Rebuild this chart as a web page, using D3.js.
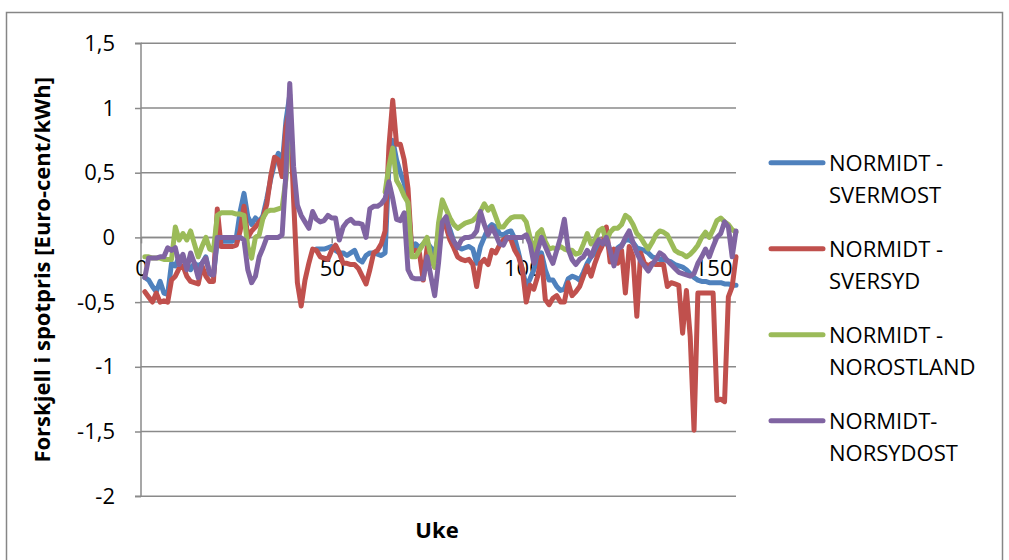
<!DOCTYPE html>
<html><head><meta charset="utf-8">
<script src="https://cdn.jsdelivr.net/npm/d3@7"></script>
<style>
html,body{margin:0;padding:0;background:#fff;}
svg{display:block;font-family:"Open Sans","Noto Sans",sans-serif;}
</style></head>
<body><svg id="chart" width="1009" height="560"></svg>
<script>
const weeks = d3.range(1, 157);
const xTicks = [0, 50, 100, 150];
const yTicks = [-2, -1.5, -1, -0.5, 0, 0.5, 1, 1.5];
const seriesNames = ["NORMIDT - SVERMOST", "NORMIDT - SVERSYD", "NORMIDT - NOROSTLAND", "NORMIDT- NORSYDOST"];
const legendLines = [["NORMIDT -", "SVERMOST"], ["NORMIDT -", "SVERSYD"], ["NORMIDT -", "NOROSTLAND"], ["NORMIDT-", "NORSYDOST"]];
const colors = ["#4F81BD", "#C0504D", "#9BBB59", "#8064A2"];

const sverMost = [
-0.31,-0.33,-0.38,-0.42,-0.34,-0.43,-0.44,-0.20,-0.22,-0.15,
-0.18,-0.20,-0.25,-0.20,-0.22,-0.20,-0.15,-0.28,-0.30,-0.02,
-0.03,-0.03,-0.03,-0.03,0.00,0.20,0.34,0.16,0.10,0.15,
0.12,0.17,0.30,0.45,0.57,0.65,0.55,0.90,1.10,null,
null,null,null,null,null,-0.09,-0.09,-0.09,-0.08,-0.07,
-0.10,-0.12,-0.12,-0.14,-0.12,-0.10,-0.17,-0.19,-0.14,-0.12,
-0.12,-0.13,-0.14,-0.12,0.55,0.75,0.60,0.50,0.42,0.28,
-0.10,-0.05,-0.08,-0.05,-0.04,-0.08,-0.12,0.00,0.13,0.14,
0.06,-0.03,-0.07,-0.09,-0.08,-0.07,-0.09,-0.20,-0.07,0.00,
0.07,0.10,0.08,0.03,0.02,0.04,0.05,-0.01,-0.12,-0.25,
-0.38,-0.32,-0.25,-0.17,-0.12,-0.25,-0.33,-0.33,-0.38,-0.41,
-0.40,-0.32,-0.30,-0.31,-0.33,-0.27,-0.20,-0.15,-0.12,-0.07,
-0.05,-0.04,-0.10,-0.12,-0.08,-0.06,-0.02,-0.02,-0.04,-0.08,
-0.09,-0.10,-0.12,-0.15,-0.16,-0.17,-0.17,-0.18,-0.19,-0.21,
-0.22,-0.23,-0.25,-0.28,-0.31,-0.33,-0.34,-0.34,-0.35,-0.35,
-0.35,-0.35,-0.36,-0.36,-0.37,-0.37];

const sverSyd = [
-0.42,-0.46,-0.50,-0.43,-0.50,-0.49,-0.50,-0.33,-0.30,-0.24,
-0.22,-0.30,-0.34,-0.35,-0.36,-0.22,-0.30,-0.34,-0.34,0.22,
-0.07,-0.07,-0.07,-0.07,-0.06,0.05,0.24,0.00,0.05,0.08,
0.12,0.15,0.26,0.47,0.62,0.60,0.47,0.85,1.00,0.30,
-0.35,-0.53,-0.33,-0.20,-0.09,-0.10,-0.15,-0.16,-0.17,-0.10,
-0.06,-0.12,-0.20,-0.20,-0.21,-0.21,-0.24,-0.30,-0.36,-0.25,
-0.12,-0.10,-0.05,0.05,0.70,1.06,0.72,0.72,0.60,0.38,
-0.11,-0.10,-0.12,-0.33,-0.08,-0.15,-0.23,0.05,0.11,0.08,
-0.02,-0.08,-0.15,-0.17,-0.18,-0.17,-0.21,-0.38,-0.20,-0.17,
-0.21,-0.10,-0.12,-0.06,-0.02,0.00,-0.02,-0.10,-0.15,-0.25,
-0.50,-0.37,-0.40,-0.30,-0.15,-0.48,-0.52,-0.47,-0.45,-0.50,
-0.50,-0.35,-0.45,-0.42,-0.38,-0.30,-0.22,-0.30,-0.20,-0.12,
-0.06,0.08,-0.19,-0.09,-0.20,-0.10,-0.43,-0.07,-0.15,-0.61,
-0.12,-0.20,-0.22,-0.20,-0.21,-0.21,-0.21,-0.38,-0.35,-0.36,
-0.37,-0.74,-0.41,-0.77,-1.49,-0.43,-0.43,-0.43,-0.43,-0.43,
-1.26,-1.25,-1.27,-0.46,-0.38,-0.15];

const norOstland = [
-0.15,-0.15,-0.16,-0.16,-0.16,-0.17,-0.17,-0.17,0.08,-0.02,
0.03,-0.02,0.05,-0.05,-0.15,-0.07,0.00,-0.09,-0.10,0.17,
0.19,0.19,0.19,0.19,0.18,0.18,0.17,-0.07,-0.16,0.00,
0.02,0.15,0.20,0.21,0.21,0.22,0.23,0.45,0.85,null,
null,null,null,null,null,null,null,null,null,null,
null,null,null,null,null,null,null,null,null,null,
null,null,null,0.35,0.55,0.69,0.44,0.39,0.32,0.27,
-0.15,-0.15,-0.10,-0.05,0.00,-0.15,-0.23,0.11,0.29,0.22,
0.15,0.10,0.07,0.09,0.11,0.12,0.13,0.16,0.20,0.26,
0.21,0.24,0.16,0.08,0.08,0.12,0.15,0.16,0.16,0.16,
0.12,0.00,-0.12,0.03,0.06,-0.03,-0.09,-0.08,-0.09,-0.07,
-0.09,-0.10,-0.10,-0.13,-0.12,-0.05,0.03,-0.05,-0.02,0.05,
0.07,-0.03,0.04,0.07,0.07,0.10,0.17,0.15,0.10,0.03,
0.00,-0.05,-0.09,-0.04,0.02,0.05,0.04,0.02,-0.04,-0.10,
-0.12,-0.13,-0.15,-0.13,-0.10,-0.06,0.00,0.04,0.00,0.06,
0.13,0.15,0.12,0.10,0.06,0.04];

const norSydost = [
-0.31,-0.16,-0.16,-0.16,-0.15,-0.15,-0.08,-0.10,-0.08,-0.21,
-0.13,-0.25,-0.12,-0.20,-0.31,-0.20,-0.16,-0.28,-0.29,0.00,
0.00,0.00,0.00,0.00,0.00,0.00,-0.02,-0.25,-0.35,-0.30,
-0.15,-0.08,0.00,0.00,0.00,0.00,0.02,0.50,1.19,0.55,
0.25,0.17,0.12,0.07,0.20,0.14,0.12,0.13,0.17,0.15,
0.15,-0.02,0.08,0.12,0.14,0.11,0.11,0.10,0.00,0.22,
0.24,0.24,0.26,0.30,0.43,0.30,0.14,0.13,0.19,-0.25,
-0.31,-0.32,-0.32,-0.32,-0.15,-0.30,-0.45,-0.20,0.12,0.16,
0.03,-0.03,-0.08,-0.02,0.00,0.00,0.01,0.05,0.20,0.10,
0.02,0.08,0.02,-0.05,-0.06,0.00,0.00,0.00,0.00,0.00,
0.02,-0.05,-0.20,-0.10,0.00,-0.07,-0.14,-0.20,-0.10,0.00,
0.14,-0.09,-0.17,-0.21,-0.17,-0.15,-0.10,-0.15,-0.07,-0.02,
-0.05,0.00,-0.10,-0.22,-0.09,-0.07,0.00,0.05,-0.04,-0.12,
-0.18,-0.22,-0.26,-0.21,-0.17,-0.12,-0.14,-0.18,-0.21,-0.24,
-0.27,-0.28,-0.29,-0.30,-0.28,-0.20,-0.15,-0.09,-0.15,-0.07,
0.00,0.03,0.12,0.08,-0.15,0.05];

const allSeries = [sverMost, sverSyd, norOstland, norSydost];

const svg = d3.select("#chart");
const fontSize = 22;
const fontFam = "'Open Sans','Noto Sans',sans-serif";

// outer chart border
svg.append("rect").attr("x", 6.5).attr("y", 12.5).attr("width", 996).attr("height", 600)
  .attr("fill", "#fff").attr("stroke", "#868686").attr("stroke-width", 1.5);

const x = d3.scaleLinear().domain([0, 156]).range([141, 736]);
const y = d3.scaleLinear().domain([-2, 1.5]).range([496.2, 43.3]);

// gridlines
svg.append("g").selectAll("line").data(yTicks).join("line")
  .attr("x1", x(0)).attr("x2", x(156))
  .attr("y1", d => y(d)).attr("y2", d => y(d))
  .attr("stroke", "#8a8a8a").attr("stroke-width", 1.5);

// y axis
const yAxis = d3.axisLeft(y).tickValues(yTicks).tickSize(6).tickPadding(20)
  .tickFormat(d => String(d).replace(".", ","));
const gy = svg.append("g").attr("transform", `translate(${x(0)},0)`).call(yAxis);
gy.select(".domain").attr("stroke", "#8a8a8a").attr("stroke-width", 1.5).attr("d", `M-6,${y(1.5)}H0V${y(-2)}H-6`);
gy.selectAll(".tick line").attr("stroke", "#8a8a8a").attr("stroke-width", 1.5);
gy.selectAll(".tick text").attr("font-size", fontSize).attr("fill", "#000").attr("font-family", fontFam);

// x axis at y=0
const xAxis = d3.axisBottom(x).tickValues(xTicks).tickSize(6).tickPadding(17).tickFormat(d3.format("d"));
const gx = svg.append("g").attr("transform", `translate(0,${y(0)})`).call(xAxis);
gx.select(".domain").attr("stroke", "#8a8a8a").attr("stroke-width", 1.5).attr("d", `M${x(0)},0H${x(156)}`);
gx.selectAll(".tick line").attr("stroke", "#8a8a8a").attr("stroke-width", 1.5);
gx.selectAll(".tick text").attr("font-size", fontSize).attr("fill", "#000").attr("font-family", fontFam);

// lines
const line = d3.line().defined(d => d[1] !== null).x(d => x(d[0])).y(d => y(d[1]));
allSeries.forEach((s, i) => {
  svg.append("path")
    .datum(weeks.map((w, j) => [w, s[j]]))
    .attr("fill", "none").attr("stroke", colors[i]).attr("stroke-width", 5)
    .attr("stroke-linejoin", "round").attr("stroke-linecap", "round")
    .attr("d", line);
});

// axis titles
svg.append("text").attr("x", 437).attr("y", 538).attr("text-anchor", "middle")
  .attr("font-size", fontSize).attr("font-weight", "bold").text("Uke");
svg.append("text").attr("transform", `translate(50,${(y(1.5) + y(-2)) / 2}) rotate(-90)`)
  .attr("text-anchor", "middle").attr("font-size", fontSize).attr("font-weight", "bold")
  .text("Forskjell i spotpris [Euro-cent/kWh]");

// legend
const lg = svg.append("g");
seriesNames.forEach((n, i) => {
  const cy = 162.7 + i * 86;
  lg.append("line").attr("x1", 771).attr("x2", 823).attr("y1", cy).attr("y2", cy)
    .attr("stroke", colors[i]).attr("stroke-width", 5).attr("stroke-linecap", "round");
  const t = lg.append("text").attr("x", 829).attr("y", cy + 8).attr("font-size", fontSize).attr("fill", "#000");
  legendLines[i].forEach((ln, k) => {
    t.append("tspan").attr("x", 829).attr("dy", k === 0 ? 0 : 32.7).text(ln);
  });
});
</script></body></html>
